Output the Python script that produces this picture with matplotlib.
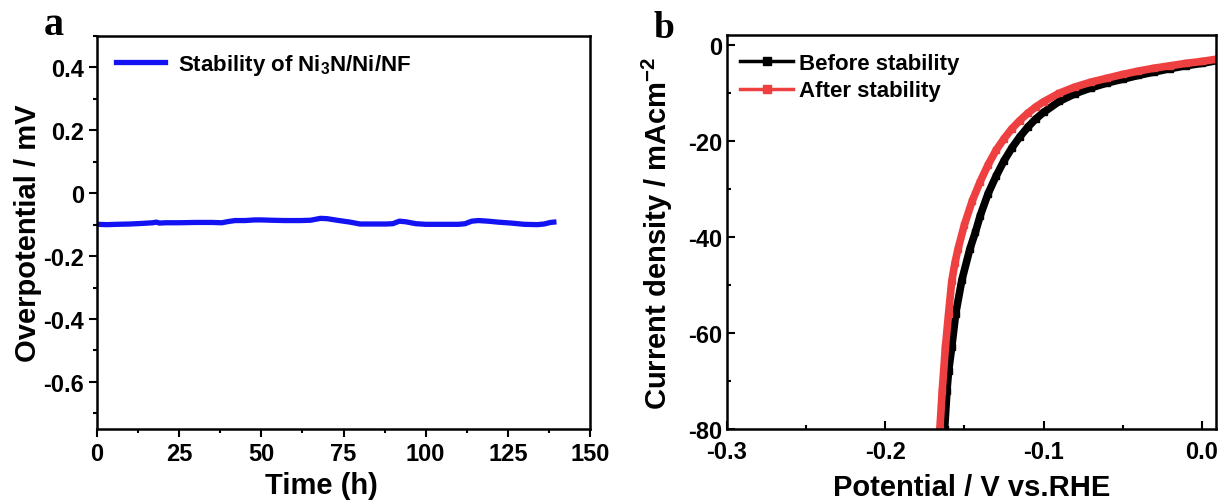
import numpy as np
import matplotlib
matplotlib.use('Agg')
import matplotlib.pyplot as plt
from matplotlib.ticker import MultipleLocator

plt.rcParams['font.family'] = ['Liberation Sans', 'DejaVu Sans']
plt.rcParams['font.weight'] = 'bold'
plt.rcParams['axes.unicode_minus'] = False
plt.rcParams['mathtext.fontset'] = 'custom'
plt.rcParams['mathtext.rm'] = 'Liberation Sans:bold'
plt.rcParams['mathtext.bf'] = 'Liberation Sans:bold'
plt.rcParams['mathtext.it'] = 'Liberation Sans:bold'

# panel a: stability test
time_h = [0, 3, 6, 10, 14, 17, 18, 19, 21, 25, 30, 35, 38, 40, 42, 45, 48, 50, 53,
          57, 62, 65, 68, 70, 73, 77, 80, 84, 88, 90, 92, 94, 97, 100, 105, 110, 112,
          114, 116, 119, 122, 126, 130, 134, 136, 138, 139]
overpot = [-0.099, -0.100, -0.099, -0.098, -0.096, -0.094, -0.092, -0.095, -0.094, -0.094,
           -0.093, -0.093, -0.094, -0.090, -0.087, -0.087, -0.085, -0.085, -0.086,
           -0.087, -0.087, -0.086, -0.080, -0.081, -0.086, -0.092, -0.098, -0.098, -0.098,
           -0.097, -0.089, -0.091, -0.097, -0.099, -0.099, -0.099, -0.097,
           -0.089, -0.087, -0.089, -0.092, -0.095, -0.099, -0.100, -0.098, -0.093, -0.092]

# panel b: polarization curves
pot_before = [-0.1625, -0.161, -0.160, -0.158, -0.1555, -0.1516, -0.1465, -0.143, -0.14,
              -0.135, -0.13, -0.125, -0.12, -0.115, -0.11, -0.105, -0.10, -0.09, -0.08,
              -0.07, -0.06, -0.05, -0.04, -0.03, -0.02, -0.01, 0.0, 0.01]
j_before = [-80, -72, -68, -63, -56, -49, -42.5, -39, -35.6, -31, -27.4, -24.2, -21.5, -19.2,
            -17.2, -15.5, -14.1, -11.8, -10.2, -9.0, -8.0, -7.2, -6.4, -5.7, -5.0, -4.4,
            -3.9, -3.3]
pot_after = [-0.1655, -0.164, -0.162, -0.160, -0.158, -0.156, -0.154, -0.150, -0.145, -0.14,
             -0.135, -0.13, -0.125, -0.12, -0.115, -0.11, -0.105, -0.10, -0.09, -0.08,
             -0.07, -0.06, -0.05, -0.04, -0.03, -0.02, -0.01, 0.0, 0.01]
j_after = [-80, -72, -63, -56, -49.3, -45.5, -42.5, -37.5, -32.5, -28.5, -25, -22, -19.6,
           -17.5, -15.8, -14.3, -13, -11.9, -10.1, -8.8, -7.8, -7.0, -6.2, -5.5, -4.9, -4.4,
           -3.9, -3.5, -3.0]

fig = plt.figure(figsize=(12.18, 5.02), dpi=100)
ax1 = fig.add_axes([97/1218, 1-430/502, (590-97)/1218, (430-37)/502])
ax2 = fig.add_axes([727/1218, 1-430/502, (1216-727)/1218, (430-36)/502])

ax1.plot(time_h, overpot, color='#1212f2', lw=3.8, label=r'Stability of Ni$_3$N/Ni/NF')
ax1.set_xlim(0, 150)
ax1.set_ylim(-0.75, 0.5)
ax1.set_xticks([0, 25, 50, 75, 100, 125, 150])
ax1.set_yticks([-0.6, -0.4, -0.2, 0, 0.2, 0.4])
ax1.set_yticklabels(['-0.6', '-0.4', '-0.2', '0', '0.2', '0.4'])
ax1.xaxis.set_minor_locator(MultipleLocator(12.5))
ax1.yaxis.set_minor_locator(MultipleLocator(0.1))
ax1.tick_params(which='both', direction='out', width=1.5, labelsize=17)
ax1.tick_params(which='major', length=6)
ax1.tick_params(which='minor', length=3)
ax1.set_xlabel('Time (h)', fontsize=21, fontweight='bold', labelpad=4, x=0.455)
ax1.set_ylabel('Overpotential / mV', fontsize=21, fontweight='bold', labelpad=1)
ax1.legend(loc='upper left', frameon=False, fontsize=16, handlelength=2.2,
           bbox_to_anchor=(0.008, 1.0), borderaxespad=0.3, handletextpad=0.55)

ax2.plot(pot_before, j_before, color='black', lw=5.5, marker='s', ms=5,
         label='Before stability')
ax2.plot(pot_after, j_after, color='#ee4040', lw=5.5, marker='s', ms=5,
         label='After stability')
ax2.set_xlim(-0.3, 0.009)
ax2.set_ylim(-80, 2)
ax2.set_xticks([-0.3, -0.2, -0.1, 0.0])
ax2.set_yticks([-80, -60, -40, -20, 0])
ax2.xaxis.set_minor_locator(MultipleLocator(0.05))
ax2.yaxis.set_minor_locator(MultipleLocator(10))
ax2.tick_params(which='both', direction='in', width=1.5, labelsize=17)
ax2.tick_params(which='major', length=6)
ax2.tick_params(which='minor', length=3)
ax2.tick_params(axis='x', pad=8)
ax2.set_xlabel('Potential / V vs.RHE', fontsize=21, fontweight='bold', labelpad=7)
ax2.set_ylabel(r'Current density / mAcm$^{-2}$', fontsize=21, fontweight='bold', labelpad=9)
leg = ax2.legend(loc='upper left', frameon=False, fontsize=16, handlelength=2.4,
                 borderaxespad=0.4, labelspacing=0.3, handletextpad=0.25,
                 bbox_to_anchor=(-0.01, 1.0))
for h in leg.legend_handles:
    h.set_linewidth(2.5)
    h.set_markersize(6)

# panel letters
fig.text(44/1218, 1-35/502, 'a', fontsize=29, fontweight='bold',
         family='Liberation Serif', va='baseline', ha='left')
fig.text(653/1218, 1-38/502, 'b', fontsize=27, fontweight='bold',
         family='Liberation Serif', va='baseline', ha='left')

for ax in (ax1, ax2):
    for s in ax.spines.values():
        s.set_linewidth(1.8)
    for lab in ax.get_xticklabels() + ax.get_yticklabels():
        lab.set_fontweight('bold')

fig.savefig('out.png', dpi=100)
